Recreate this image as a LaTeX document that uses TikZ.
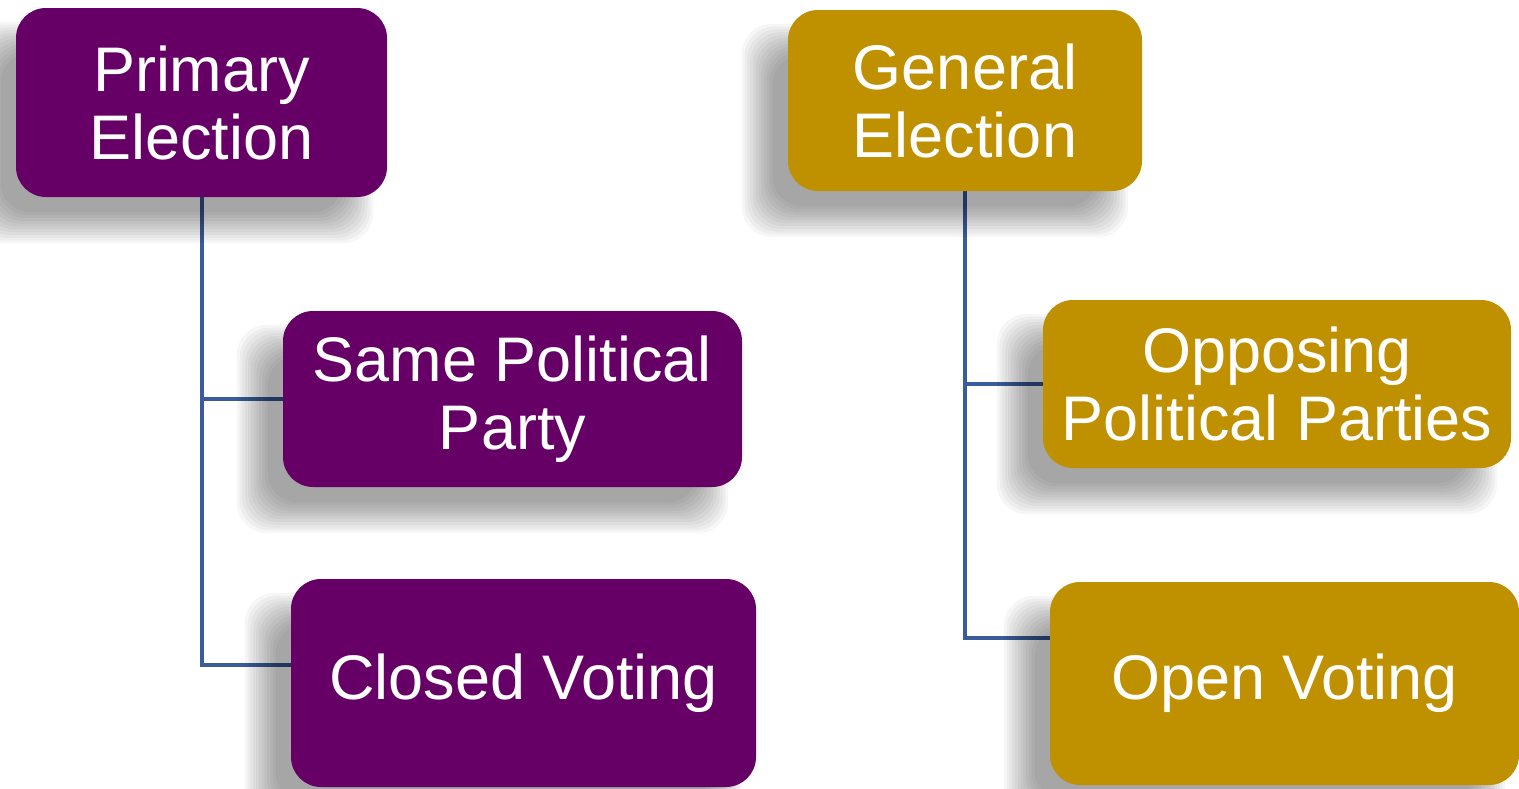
\documentclass[tikz,border=0pt]{standalone}
\usepackage{fontspec}
\setmainfont{Liberation Sans}
\usetikzlibrary{calc}
\definecolor{purp}{HTML}{660066}
\definecolor{gold}{HTML}{BF9000}
\definecolor{connc}{HTML}{3A5C9A}
\pgfdeclarelayer{connlayer}
\pgfdeclarelayer{shadowlayer}
\pgfsetlayers{connlayer,shadowlayer,main}
\tikzset{
  box/.style={rounded corners=30pt, text=white, align=center, inner sep=0pt,
    font=\fontsize{63}{68}\selectfont},
  pbox/.style={box, fill=purp},
  gbox/.style={box, fill=gold},
  conn/.style={draw=connc, line width=4pt},
}
\newcommand\dropshadow[1]{%
  \foreach \k in {0,...,11}{%
    \pgfmathsetmacro\e{16-2.8*\k}%
    \fill[black, opacity=0.036, rounded corners=30pt]
      ([shift={(-30-\e,30-\e)}]#1.north west) rectangle ([shift={(-30+\e,30+\e)}]#1.south east);
  }%
}
\begin{document}
\begin{tikzpicture}[x=1pt,y=-1pt]
\useasboundingbox (0,0) rectangle (1519,788);
% nodes
\node[pbox, minimum width=371pt, minimum height=189pt] (PE) at (201.5,102.5) {Primary\\Election};
\node[pbox, minimum width=459pt, minimum height=176pt] (SPP) at (512.5,399) {Same Political\\Party};
\node[pbox, minimum width=465pt, minimum height=208pt] (CV) at (523.5,683) {Closed Voting};
\node[gbox, minimum width=354pt, minimum height=181pt] (GE) at (965,100.5) {General\\Election};
\node[gbox, minimum width=468pt, minimum height=168pt] (OPP) at (1277,384) {Opposing\\Political Parties};
\node[gbox, minimum width=469pt, minimum height=203pt] (OV) at (1284.5,683.5) {Open Voting};
\coordinate (cvin) at ([yshift=18pt]CV.west);
\coordinate (ovin) at ([yshift=45.5pt]OV.west);
% connectors
\begin{pgfonlayer}{connlayer}
  \draw[conn] (PE.south) |- (cvin);
  \draw[conn] (PE.south |- SPP.west) -- (SPP.west);
  \draw[conn] (GE.south) |- (ovin);
  \draw[conn] (GE.south |- OPP.west) -- (OPP.west);
\end{pgfonlayer}
% shadows
\begin{pgfonlayer}{shadowlayer}
  \dropshadow{PE}
  \dropshadow{SPP}
  \dropshadow{CV}
  \dropshadow{GE}
  \dropshadow{OPP}
  \dropshadow{OV}
\end{pgfonlayer}
\end{tikzpicture}
\end{document}
